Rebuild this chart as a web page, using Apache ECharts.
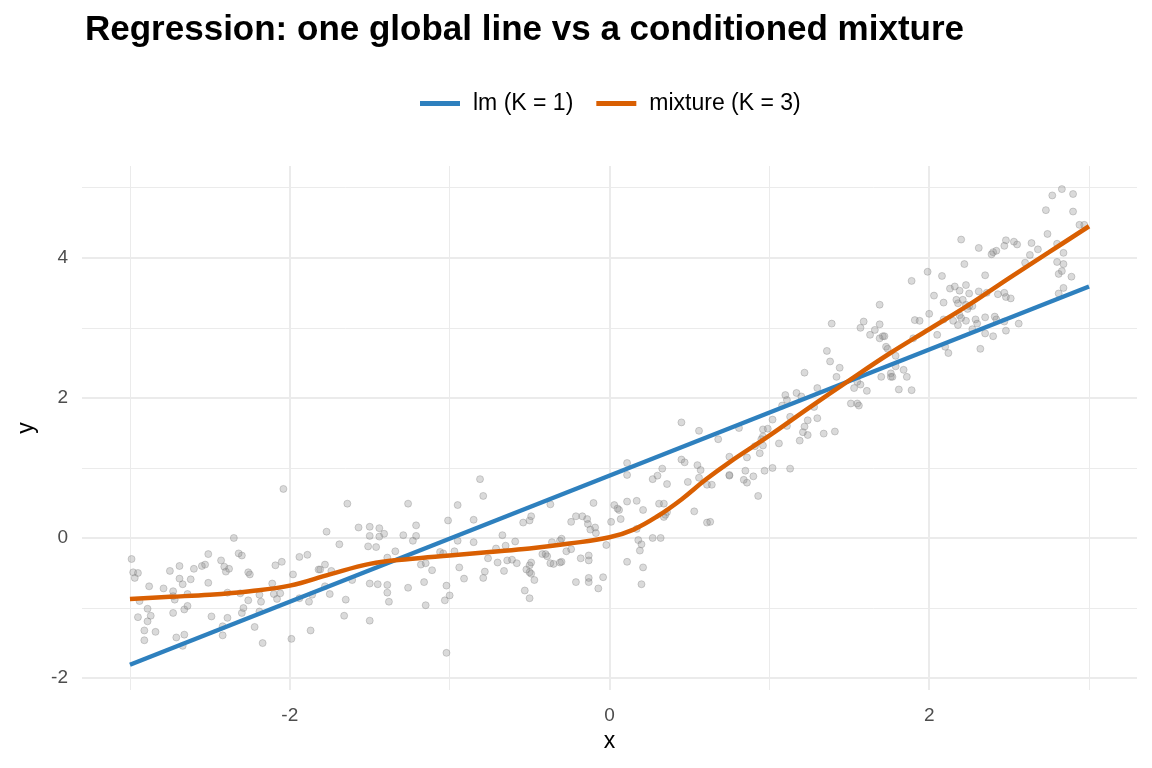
<!DOCTYPE html>
<html>
<head>
<meta charset="utf-8">
<script src="https://cdn.jsdelivr.net/npm/echarts@6/dist/echarts.min.js"></script>
<style>
  html, body { margin: 0; padding: 0; background: #fff; }
  #chart { width: 1152px; height: 768px; }
</style>
</head>
<body>
<div id="chart"></div>
<script>
// scatter points, [x, y]
const points = [
  [-2.99,-0.30],[-2.35,0.00],[-2.51,-0.23],[-2.32,-0.22],[-2.30,-0.25],[-2.98,-0.49],[-2.95,-0.50],[-2.97,-0.57],
  [-2.75,-0.47],[-2.69,-0.40],[-2.60,-0.44],[-2.55,-0.40],[-2.53,-0.38],[-2.43,-0.32],[-2.41,-0.41],[-2.40,-0.48],
  [-2.38,-0.44],[-2.26,-0.49],[-2.25,-0.52],[-2.09,-0.39],[-2.05,-0.34],[-1.94,-0.27],[-1.89,-0.24],[-1.98,-0.52],
  [-1.82,-0.45],[-2.88,-0.69],[-2.79,-0.72],[-2.73,-0.76],[-2.69,-0.58],[-2.67,-0.66],[-2.62,-0.59],[-2.51,-0.64],
  [-2.73,-0.83],[-2.64,-0.80],[-2.72,-0.88],[-2.94,-0.90],[-2.89,-1.01],[-2.95,-1.13],[-2.87,-1.11],[-2.89,-1.19],
  [-2.73,-1.07],[-2.66,-1.02],[-2.64,-0.97],[-2.49,-1.12],[-2.39,-1.14],[-2.42,-1.26],[-2.30,-1.07],[-2.29,-1.00],
  [-2.26,-0.89],[-2.31,-0.79],[-2.39,-0.78],[-2.19,-0.81],[-2.18,-0.91],[-2.11,-0.65],[-2.10,-0.80],[-2.08,-0.87],
  [-2.06,-0.79],[-1.94,-0.86],[-1.88,-0.91],[-1.86,-0.81],[-2.91,-1.32],[-2.91,-1.46],[-2.84,-1.34],[-2.71,-1.42],
  [-2.66,-1.38],[-2.67,-1.54],[-2.42,-1.39],[-2.22,-1.27],[-2.19,-1.05],[-2.17,-1.50],[-1.99,-1.44],[-1.87,-1.32],
  [-2.04,0.70],
  [-1.50,0.16],[-1.50,0.03],[-1.51,-0.12],[-1.50,-0.65],
  [-1.77,0.09],[-1.64,0.49],[-1.57,0.15],[-1.69,-0.09],[-1.81,-0.45],[-1.78,-0.38],[-1.74,-0.47],[-1.78,-0.69],
  [-1.75,-0.80],[-1.61,-0.60],[-1.65,-0.88],[-1.66,-1.11],[-1.50,-1.18],
  [-1.26,0.49],[-0.95,0.47],[-0.81,0.84],[-0.79,0.60],[-1.01,0.25],[-0.85,0.26],[-1.44,0.14],[-1.41,0.06],
  [-1.44,0.02],[-1.29,0.04],[-1.21,0.18],[-1.21,0.03],[-1.23,-0.04],[-1.46,-0.13],[-1.34,-0.19],[-1.39,-0.28],
  [-1.45,-0.66],[-1.39,-0.67],[-1.39,-0.78],[-1.38,-0.91],[-1.26,-0.71],[-1.16,-0.63],[-1.15,-0.96],[-1.18,-0.38],
  [-1.15,-0.36],[-1.11,-0.46],[-1.06,-0.20],[-1.04,-0.22],[-1.02,-0.68],[-1.03,-0.89],[-1.00,-0.82],[-1.02,-1.64],
  [-0.95,-0.04],[-0.97,-0.19],[-0.94,-0.42],[-0.91,-0.58],[-0.85,-0.06],[-0.76,-0.29],[-0.78,-0.48],[-0.79,-0.57],
  [-0.70,-0.35],[-0.66,-0.47],[-0.71,-0.15],[-0.65,-0.11],[-0.67,0.04],[-0.59,-0.05],[-0.64,-0.32],[-0.61,-0.31],
  [-0.58,-0.36],
  [0.45,1.65],[0.56,1.53],[0.68,1.41],[0.45,1.12],[0.47,1.08],[0.55,1.04],[0.57,0.97],[0.56,0.86],
  [0.49,0.80],[0.61,0.76],[0.64,0.76],[0.11,1.07],[0.11,0.90],[0.33,0.99],[0.30,0.89],[0.27,0.84],
  [0.36,0.77],[0.11,0.52],[0.17,0.53],[0.21,0.40],[0.03,0.47],[0.05,0.42],[0.06,0.40],[0.07,0.27],
  [0.01,0.23],[0.31,0.49],[0.34,0.49],[0.36,0.37],[0.35,0.33],[0.34,0.30],[0.53,0.38],[0.61,0.22],
  [0.63,0.23],[0.17,0.13],[0.27,0.00],[0.32,0.00],[0.18,-0.03],[0.20,-0.09],[0.19,-0.18],[-0.02,-0.10],
  [0.11,-0.34],[0.21,-0.42],[0.20,-0.66],[-0.04,-0.56],[-0.07,-0.72],[-0.13,-0.57],[-0.13,-0.63],[-0.21,-0.63],
  [-0.13,-0.25],[-0.13,-0.32],[-0.18,-0.29],[-0.37,-0.36],[-0.35,-0.37],[-0.30,-0.34],[-0.31,-0.35],[-0.27,-0.19],
  [-0.24,-0.16],[-0.42,-0.23],[-0.40,-0.23],[-0.39,-0.26],[-0.31,-0.04],[-0.30,-0.01],[-0.36,-0.06],[-0.52,-0.45],
  [-0.50,-0.39],[-0.49,-0.35],[-0.50,-0.49],[-0.49,-0.51],[-0.47,-0.60],[-0.53,-0.75],[-0.50,-0.86],[-0.37,0.48],
  [-0.10,0.50],[-0.24,0.23],[-0.21,0.31],[-0.17,0.31],[-0.14,0.27],[-0.135,0.20],[-0.12,0.12],[-0.09,0.15],
  [-0.085,0.07],[-0.54,0.22],[-0.50,0.25],[-0.49,0.31],
  [1.39,3.06],[1.59,3.09],[1.57,3.00],[1.66,2.97],[1.63,2.90],[1.69,2.85],[1.79,2.60],[1.36,2.67],
  [1.38,2.52],[1.44,2.43],[1.42,2.30],[1.22,2.36],[1.30,2.14],[1.30,1.71],[1.34,1.49],[1.41,1.52],
  [1.53,2.14],[1.57,2.19],[1.61,2.10],[1.55,2.23],[1.51,1.92],[1.55,1.92],[1.56,1.89],[1.76,2.30],
  [1.10,2.04],[1.11,1.97],[1.17,2.07],[1.20,2.02],[1.08,1.89],[1.02,1.69],[1.13,1.73],[1.11,1.60],
  [1.24,1.68],[1.22,1.59],[1.21,1.51],[1.24,1.47],[1.19,1.39],[1.28,1.87],[0.96,1.55],[0.99,1.56],
  [0.96,1.45],[0.95,1.41],[0.96,1.32],[0.94,1.21],[0.91,1.31],[1.06,1.35],[0.86,1.15],[0.81,1.57],
  [0.75,1.16],[0.75,0.90],[0.75,0.89],[0.85,0.96],[0.84,0.83],[0.86,0.79],[0.90,0.88],[0.97,0.96],
  [1.02,1.00],[1.13,0.99],[0.93,0.60],
  [2.83,4.98],[2.90,4.91],[2.77,4.89],[2.73,4.68],[2.90,4.66],[2.94,4.47],[2.97,4.47],[2.74,4.34],
  [2.80,4.20],[2.84,4.07],[2.80,3.94],[2.84,3.91],[2.83,3.81],[2.81,3.77],[2.89,3.73],[2.84,3.57],
  [2.81,3.49],[2.64,4.21],[2.68,4.12],[2.63,4.04],[2.60,3.93],[2.53,4.23],[2.55,4.19],[2.48,4.25],
  [2.47,4.17],[2.42,4.10],[2.40,4.08],[2.39,4.05],[2.20,4.26],[2.31,4.14],[2.22,3.91],[1.99,3.80],
  [2.08,3.74],[1.89,3.67],[2.35,3.75],[2.13,3.56],[2.16,3.59],[2.23,3.61],[2.03,3.46],[2.19,3.53],
  [2.25,3.49],[2.31,3.52],[2.43,3.48],[2.47,3.50],[2.48,3.44],[2.51,3.42],[2.36,3.50],[2.17,3.40],
  [2.18,3.35],[2.21,3.40],[2.23,3.33],[2.25,3.31],[2.27,3.31],[2.24,3.27],[2.09,3.36],[2.19,3.18],
  [2.20,3.14],[2.23,3.10],[2.29,3.12],[2.30,3.06],[2.27,2.98],[2.18,3.04],[2.15,3.10],[2.09,3.12],
  [2.35,3.15],[2.41,3.16],[2.42,3.12],[2.40,2.88],[2.35,2.92],[2.32,2.70],[2.47,3.09],[2.48,2.96],
  [2.56,3.06],[2.05,2.90],[2.10,2.73],[2.12,2.64],[2.00,3.20],[1.91,3.11],[1.94,3.10],[1.69,3.33],
  [1.69,3.05],[1.71,2.88],[1.72,2.88],[1.73,2.73],[1.74,2.70],[1.90,2.85],[1.79,2.45],[1.84,2.40],
  [1.76,2.35],[1.77,2.30],[1.86,2.30],[1.81,2.12],[1.89,2.11],[1.70,2.30]
];

// lm (K = 1): straight fitted line, ends
const lmX = [-3, 3];
const lmY = [-1.81, 3.59];

// mixture (K = 3) curve
const mixX = [-3, -2.75, -2.5, -2.25, -2, -1.75, -1.5, -1.25, -1, -0.75, -0.5, -0.25, 0,
  0.15, 0.3, 0.45, 0.6, 0.75, 1, 1.25, 1.5, 1.75, 2, 2.25, 2.5, 2.75, 3];
const mixY = [-0.87, -0.84, -0.81, -0.76, -0.68, -0.52, -0.37, -0.30, -0.25, -0.20, -0.15, -0.08, 0.01,
  0.12, 0.31, 0.55, 0.83, 1.08, 1.46, 1.86, 2.25, 2.63, 2.98, 3.33, 3.71, 4.08, 4.45];

const xMajor = [-2, 0, 2];
const xMinor = [-3, -1, 1, 3];
const yMajor = [-2, 0, 2, 4];
const yMinor = [-1, 1, 3, 5];

const xRange = [-3.3, 3.3];
const yRange = [-2.17, 5.31];

const gridColor = "#EBEBEB";
const textFont = "Liberation Sans";

function gridAxis(min, max, values, width, main) {
  return {
    type: "value",
    min: min,
    max: max,
    axisLine: { show: false },
    axisTick: { show: false, customValues: values },
    axisLabel: {
      show: main,
      customValues: values,
      color: "#4D4D4D",
      fontSize: 19,
      fontFamily: textFont,
    },
    splitLine: { show: true, lineStyle: { color: gridColor, width: width } },
  };
}

const xMain = gridAxis(xRange[0], xRange[1], xMajor, 2, true);
xMain.axisLabel.margin = 16;
xMain.name = "x";
xMain.nameLocation = "middle";
xMain.nameGap = 38;
xMain.nameTextStyle = { fontSize: 23, color: "#000", fontFamily: textFont };

const yMain = gridAxis(yRange[0], yRange[1], yMajor, 2, true);
yMain.axisLabel.margin = 14;
yMain.name = "y";
yMain.nameLocation = "middle";
yMain.nameGap = 44;
yMain.nameTextStyle = { fontSize: 23, color: "#000", fontFamily: textFont };

const option = {
  animation: false,
  backgroundColor: "#fff",
  title: {
    text: "Regression: one global line vs a conditioned mixture",
    left: 80,
    top: 8,
    textStyle: { fontSize: 35, fontWeight: "bold", color: "#000", fontFamily: textFont },
  },
  legend: {
    left: 415,
    top: 87,
    itemWidth: 40,
    itemHeight: 5,
    itemGap: 23,
    icon: "rect",
    textStyle: { fontSize: 23, color: "#000", fontFamily: textFont, padding: [0, 0, 0, 8] },
    data: ["lm (K = 1)", "mixture (K = 3)"],
  },
  grid: { left: 82, right: 15, top: 166, bottom: 78 },
  xAxis: [xMain, gridAxis(xRange[0], xRange[1], xMinor, 1, false)],
  yAxis: [yMain, gridAxis(yRange[0], yRange[1], yMinor, 1, false)],
  series: [
    {
      name: "points",
      type: "scatter",
      symbolSize: 7,
      itemStyle: {
        color: "rgba(140,140,140,0.4)",
        borderColor: "rgba(120,120,120,0.4)",
        borderWidth: 1,
      },
      silent: true,
      data: points,
    },
    {
      name: "lm (K = 1)",
      type: "line",
      showSymbol: false,
      color: "#2E80BE",
      lineStyle: { width: 4.5, color: "#2E80BE" },
      data: lmX.map((x, i) => [x, lmY[i]]),
    },
    {
      name: "mixture (K = 3)",
      type: "line",
      showSymbol: false,
      smooth: 0.4,
      color: "#D95F02",
      lineStyle: { width: 4.5, color: "#D95F02" },
      data: mixX.map((x, i) => [x, mixY[i]]),
    },
  ],
};

const chart = echarts.init(document.getElementById("chart"));
chart.setOption(option);
</script>
</body>
</html>
